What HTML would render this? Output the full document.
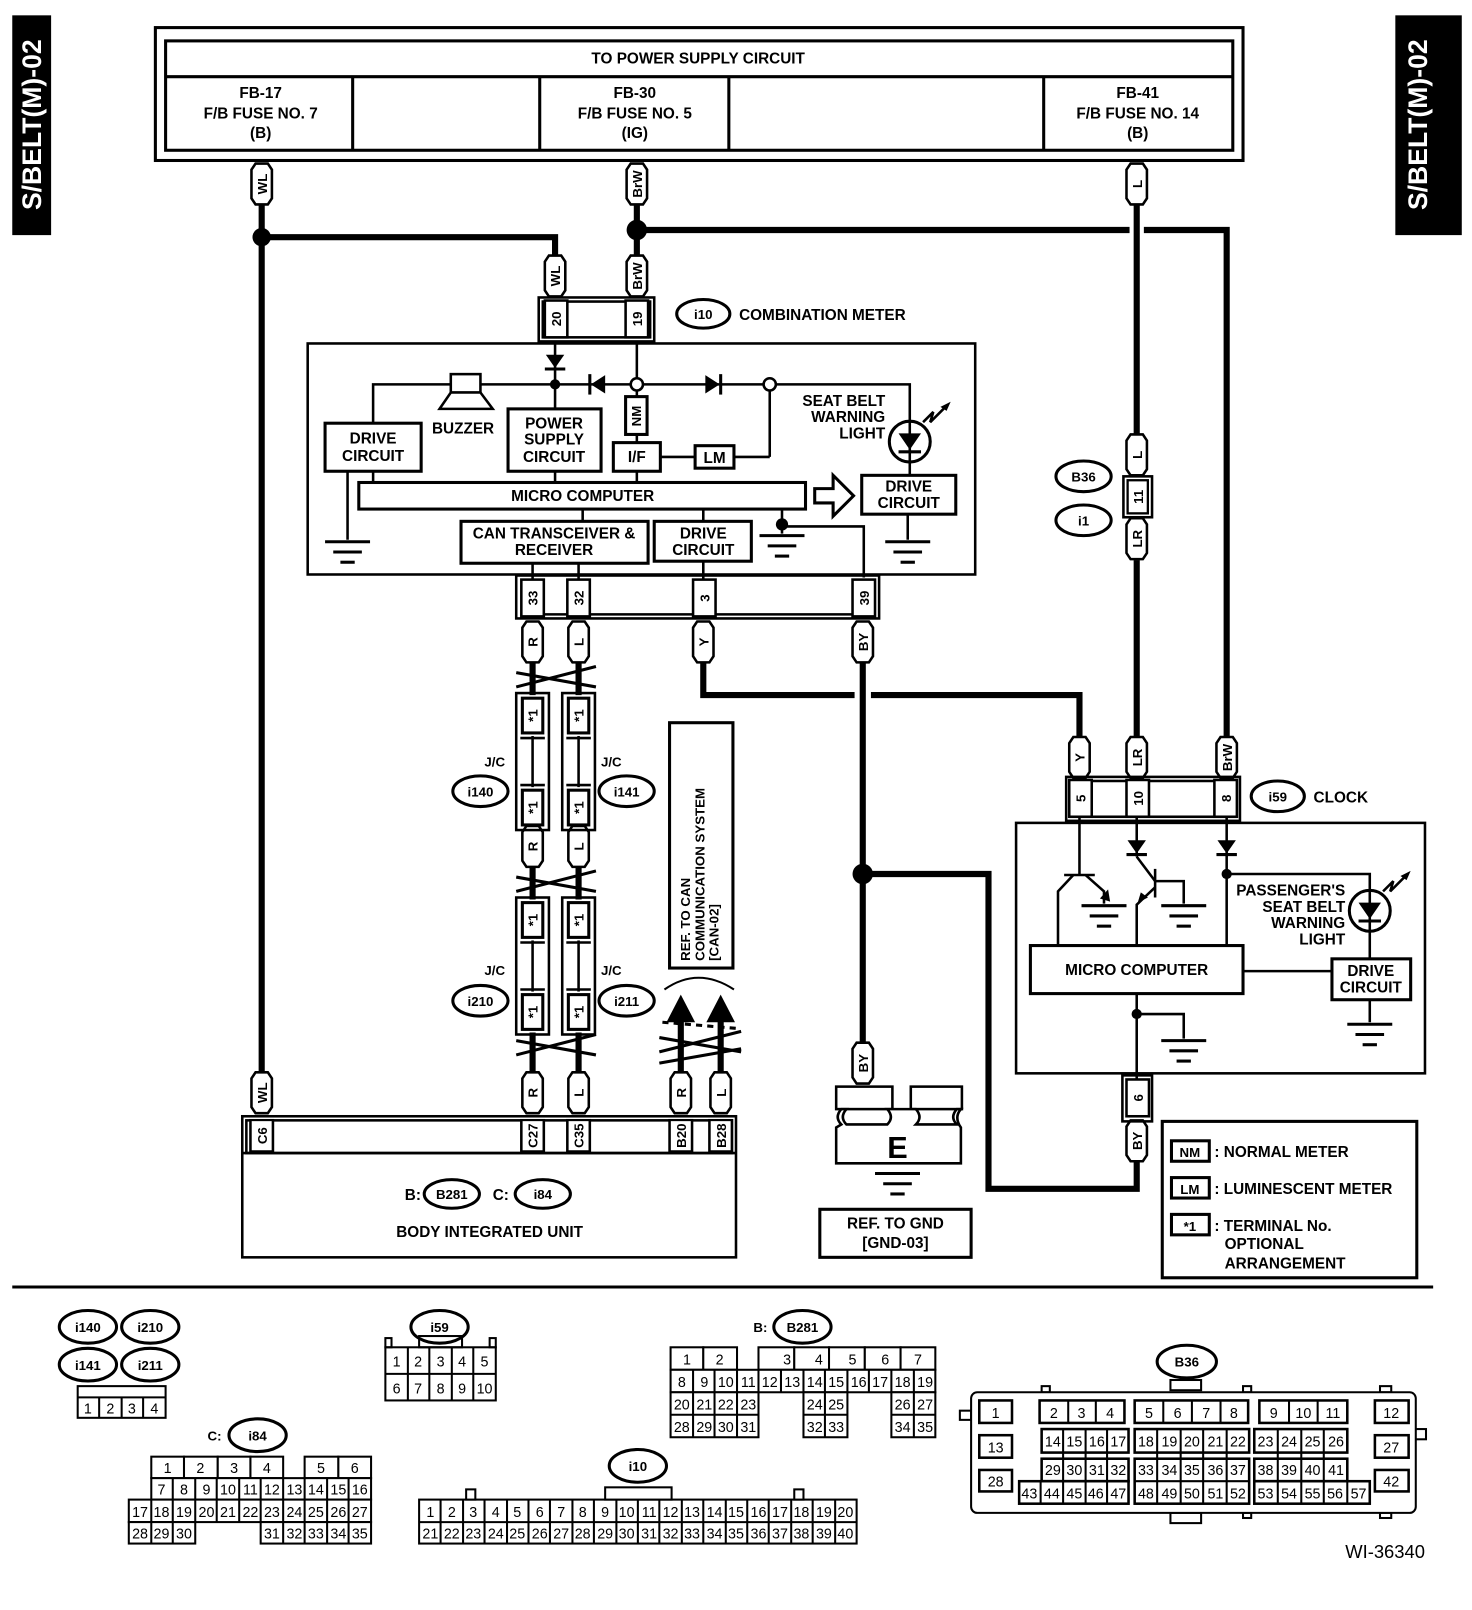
<!DOCTYPE html>
<html><head><meta charset="utf-8"><style>
html,body{margin:0;padding:0;background:#fff;}
svg{display:block;}
text{font-family:"Liberation Sans",sans-serif;font-weight:bold;fill:#000;}
.n{font-family:"Liberation Sans Narrow","Liberation Sans",sans-serif;font-weight:normal;font-size:14px;text-anchor:middle;}
.c{text-anchor:middle;}
.t{font-size:15px;}
.s{font-size:13px;}
</style></head><body>
<svg width="1472" height="1610" viewBox="0 0 1440 1575" preserveAspectRatio="none" xmlns="http://www.w3.org/2000/svg">
<defs>
<path id="pill" d="M-10,-14 L-6,-20 L6,-20 L10,-14 L10,14 L6,20 L-6,20 L-10,14 Z" fill="#fff" stroke="#000" stroke-width="2.5"/>
<g id="gnd" stroke="#000" stroke-width="3"><line x1="-22" y1="0" x2="22" y2="0"/><line x1="-14" y1="10" x2="14" y2="10"/><line x1="-7" y1="20" x2="7" y2="20"/></g>
<rect id="cell" x="-11" y="-18" width="22" height="36" fill="#fff" stroke="#000" stroke-width="2.5"/>
<rect id="star" x="-10" y="-17" width="20" height="34" fill="#fff" stroke="#000" stroke-width="3"/>
</defs>

<rect x="12" y="15" width="38" height="215" fill="#000"/>
<text transform="translate(40,122) rotate(-90)" class="c" style="font-size:26px;fill:#fff;font-weight:bold">S/BELT(M)-02</text>
<rect x="1365" y="15" width="65" height="215" fill="#000"/>
<text transform="translate(1396,122) rotate(-90)" class="c" style="font-size:26px;fill:#fff;font-weight:bold">S/BELT(M)-02</text>

<g fill="none" stroke="#000" stroke-width="3">
<rect x="152" y="27" width="1064" height="130"/>
<rect x="162" y="40" width="1044" height="107"/>
<line x1="162" y1="75" x2="1206" y2="75"/>
<line x1="345" y1="75" x2="345" y2="147"/><line x1="528" y1="75" x2="528" y2="147"/>
<line x1="713" y1="75" x2="713" y2="147"/><line x1="1021" y1="75" x2="1021" y2="147"/>
</g>
<text x="683" y="62" class="c t">TO POWER SUPPLY CIRCUIT</text>
<text x="255" y="96" class="c t">FB-17</text><text x="255" y="116" class="c t">F/B FUSE NO. 7</text><text x="255" y="135" class="c t">(B)</text>
<text x="621" y="96" class="c t">FB-30</text><text x="621" y="116" class="c t">F/B FUSE NO. 5</text><text x="621" y="135" class="c t">(IG)</text>
<text x="1113" y="96" class="c t">FB-41</text><text x="1113" y="116" class="c t">F/B FUSE NO. 14</text><text x="1113" y="135" class="c t">(B)</text>

<g fill="none" stroke="#000" stroke-width="6">
<polyline points="256,200 256,1050"/>
<polyline points="256,232 543,232 543,252"/>
<polyline points="623,200 623,252"/>
<polyline points="623,225 1105,225"/>
<polyline points="1119,225 1200,225 1200,722"/>
<polyline points="1112,200 1112,425"/>
<polyline points="1112,548 1112,722"/>
<polyline points="688,648 688,680 836,680"/>
<polyline points="852,680 1056,680 1056,722"/>
<polyline points="844,648 844,1020"/>
<polyline points="844,855 967,855 967,1163 1112,1163 1112,1136"/>
<polyline points="521,648 521,680"/><polyline points="566,648 566,680"/>
<polyline points="521,848 521,880"/><polyline points="566,848 566,880"/>
<polyline points="521,1010 521,1049"/><polyline points="566,1010 566,1049"/>
<polyline points="666,1049 666,990"/><polyline points="705,1049 705,990"/>
</g>
<circle cx="256" cy="232" r="9"/><circle cx="623" cy="225" r="10"/><circle cx="844" cy="855" r="10"/>

<g stroke="#000" stroke-width="3" fill="none">
<path d="M505,658 L583,672 M505,672 L583,652"/>
<path d="M505,858 L583,872 M505,872 L583,852"/>
<path d="M505,1018 L583,1032 M505,1032 L583,1012"/>
<path d="M645,1015 L725,1029 M645,1029 L725,1009 M645,1040 L725,1026"/>
</g>
<g stroke="#000" stroke-width="3" stroke-dasharray="6,5"><line x1="648" y1="1000" x2="720" y2="1006"/></g>
<path d="M650,968 Q683,945 718,968" fill="none" stroke="#000" stroke-width="2"/>
<polygon points="666,973 652,1000 680,1000" /><polygon points="705,973 691,1000 719,1000"/>

<g transform="translate(256,180)"><use href="#pill"/><text transform="rotate(-90)" y="5" class="c s">WL</text></g>
<g transform="translate(623,180)"><use href="#pill"/><text transform="rotate(-90)" y="5" class="c s">BrW</text></g>
<g transform="translate(1112,180)"><use href="#pill"/><text transform="rotate(-90)" y="5" class="c s">L</text></g>
<g transform="translate(543,270)"><use href="#pill"/><text transform="rotate(-90)" y="5" class="c s">WL</text></g>
<g transform="translate(623,270)"><use href="#pill"/><text transform="rotate(-90)" y="5" class="c s">BrW</text></g>
<g transform="translate(1112,445)"><use href="#pill"/><text transform="rotate(-90)" y="5" class="c s">L</text></g>
<g transform="translate(1112,527)"><use href="#pill"/><text transform="rotate(-90)" y="5" class="c s">LR</text></g>
<g transform="translate(521,628)"><use href="#pill"/><text transform="rotate(-90)" y="5" class="c s">R</text></g>
<g transform="translate(566,628)"><use href="#pill"/><text transform="rotate(-90)" y="5" class="c s">L</text></g>
<g transform="translate(688,628)"><use href="#pill"/><text transform="rotate(-90)" y="5" class="c s">Y</text></g>
<g transform="translate(844,628)"><use href="#pill"/><text transform="rotate(-90)" y="5" class="c s">BY</text></g>
<g transform="translate(1056,741)"><use href="#pill"/><text transform="rotate(-90)" y="5" class="c s">Y</text></g>
<g transform="translate(1112,741)"><use href="#pill"/><text transform="rotate(-90)" y="5" class="c s">LR</text></g>
<g transform="translate(1200,741)"><use href="#pill"/><text transform="rotate(-90)" y="5" class="c s">BrW</text></g>
<g transform="translate(521,828)"><use href="#pill"/><text transform="rotate(-90)" y="5" class="c s">R</text></g>
<g transform="translate(566,828)"><use href="#pill"/><text transform="rotate(-90)" y="5" class="c s">L</text></g>
<g transform="translate(256,1069)"><use href="#pill"/><text transform="rotate(-90)" y="5" class="c s">WL</text></g>
<g transform="translate(521,1069)"><use href="#pill"/><text transform="rotate(-90)" y="5" class="c s">R</text></g>
<g transform="translate(566,1069)"><use href="#pill"/><text transform="rotate(-90)" y="5" class="c s">L</text></g>
<g transform="translate(666,1069)"><use href="#pill"/><text transform="rotate(-90)" y="5" class="c s">R</text></g>
<g transform="translate(705,1069)"><use href="#pill"/><text transform="rotate(-90)" y="5" class="c s">L</text></g>
<g transform="translate(844,1040)"><use href="#pill"/><text transform="rotate(-90)" y="5" class="c s">BY</text></g>
<g transform="translate(1112,1116)"><use href="#pill"/><text transform="rotate(-90)" y="5" class="c s">BY</text></g>

<g fill="none" stroke="#000" stroke-width="2.5">
<rect x="527" y="291" width="113" height="43"/><rect x="531" y="295" width="105" height="35"/>
</g>
<g transform="translate(544,312)"><use href="#cell"/><text transform="rotate(-90)" y="5" class="c s">20</text></g>
<g transform="translate(623,312)"><use href="#cell"/><text transform="rotate(-90)" y="5" class="c s">19</text></g>
<ellipse cx="688" cy="307" rx="26" ry="14" fill="none" stroke="#000" stroke-width="3"/>
<text x="688" y="312" class="c s">i10</text>
<text x="723" y="313" class="t">COMBINATION METER</text>

<rect x="301" y="336" width="653" height="226" fill="none" stroke="#000" stroke-width="2.5"/>
<g stroke="#000" stroke-width="2.5" fill="none">
<line x1="543" y1="334" x2="543" y2="400"/>
<polyline points="365,414 365,376 753,376 890,376 890,465"/>
<line x1="753" y1="376" x2="753" y2="447"/>
<line x1="718" y1="447" x2="753" y2="447"/>
<line x1="646" y1="447" x2="680" y2="447"/>
<line x1="623" y1="334" x2="623" y2="388"/><line x1="623" y1="425" x2="623" y2="433"/>
<line x1="365" y1="461" x2="365" y2="472"/><line x1="543" y1="461" x2="543" y2="472"/><line x1="623" y1="461" x2="623" y2="472"/>
<line x1="340" y1="461" x2="340" y2="528"/>
<line x1="570" y1="498" x2="570" y2="510"/><line x1="688" y1="498" x2="688" y2="510"/>
<polyline points="765,498 765,515 845,515 845,565"/>
<line x1="765" y1="513" x2="765" y2="522"/>
<line x1="888" y1="503" x2="888" y2="528"/>
<line x1="521" y1="551" x2="521" y2="567"/><line x1="566" y1="551" x2="566" y2="567"/><line x1="688" y1="549" x2="688" y2="567"/>
</g>
<use href="#gnd" x="340" y="530"/><use href="#gnd" x="765" y="524"/><use href="#gnd" x="888" y="530"/>
<circle cx="543" cy="376" r="5"/><circle cx="765" cy="513" r="6"/>
<polygon points="534,347 552,347 543,360"/><line x1="533" y1="361" x2="553" y2="361" stroke="#000" stroke-width="3"/>
<polygon points="592,367 592,385 578,376"/><line x1="577" y1="366" x2="577" y2="386" stroke="#000" stroke-width="3"/>
<polygon points="690,367 690,385 704,376"/><line x1="705" y1="366" x2="705" y2="386" stroke="#000" stroke-width="3"/>
<circle cx="623" cy="376" r="6" fill="#fff" stroke="#000" stroke-width="2.5"/>
<circle cx="753" cy="376" r="6" fill="#fff" stroke="#000" stroke-width="2.5"/>
<rect x="441" y="366" width="29" height="18" fill="#fff" stroke="#000" stroke-width="2.5"/>
<polygon points="441,384 470,384 482,400 430,400" fill="#fff" stroke="#000" stroke-width="2.5"/>
<text x="453" y="424" class="c t">BUZZER</text>
<g fill="#fff" stroke="#000" stroke-width="3">
<rect x="318" y="414" width="94" height="47"/>
<rect x="497" y="400" width="91" height="61"/>
<rect x="600" y="433" width="46" height="28"/>
<rect x="680" y="436" width="38" height="22"/>
<rect x="612" y="388" width="21" height="37"/>
<rect x="351" y="472" width="437" height="26"/>
<rect x="843" y="465" width="92" height="38"/>
<rect x="451" y="510" width="183" height="41"/>
<rect x="640" y="510" width="95" height="39"/>
</g>
<text x="365" y="434" class="c t">DRIVE</text><text x="365" y="451" class="c t">CIRCUIT</text>
<text x="542" y="419" class="c t">POWER</text><text x="542" y="435" class="c t">SUPPLY</text><text x="542" y="452" class="c t">CIRCUIT</text>
<text transform="translate(627,407) rotate(-90)" class="c s">NM</text>
<text x="623" y="452" class="c t">I/F</text>
<text x="699" y="453" class="c t">LM</text>
<text x="570" y="490" class="c t">MICRO COMPUTER</text>
<text x="889" y="481" class="c t">DRIVE</text><text x="889" y="497" class="c t">CIRCUIT</text>
<text x="542" y="527" class="c t">CAN TRANSCEIVER &amp;</text><text x="542" y="543" class="c t">RECEIVER</text>
<text x="688" y="527" class="c t">DRIVE</text><text x="688" y="543" class="c t">CIRCUIT</text>
<polygon points="797,478 815,478 815,465 835,485 815,505 815,492 797,492" fill="#fff" stroke="#000" stroke-width="3"/>
<text x="866" y="397" text-anchor="end" class="t">SEAT BELT</text>
<text x="866" y="413" text-anchor="end" class="t">WARNING</text>
<text x="866" y="429" text-anchor="end" class="t">LIGHT</text>
<circle cx="890" cy="432" r="20" fill="#fff" stroke="#000" stroke-width="3"/>
<line x1="890" y1="412" x2="890" y2="452" stroke="#000" stroke-width="2.5"/>
<polygon points="879,424 901,424 890,440"/><line x1="879" y1="442" x2="901" y2="442" stroke="#000" stroke-width="3"/>
<polyline points="903,413 913,403 910,413 926,397" fill="none" stroke="#000" stroke-width="2.5"/>
<polygon points="930,393 920,398 926,402"/>

<g fill="none" stroke="#000" stroke-width="2.5">
<rect x="505" y="563" width="355" height="42"/><line x1="509" y1="601" x2="856" y2="601"/>
</g>
<g transform="translate(521,585)"><use href="#cell"/><text transform="rotate(-90)" y="5" class="c s">33</text></g>
<g transform="translate(566,585)"><use href="#cell"/><text transform="rotate(-90)" y="5" class="c s">32</text></g>
<g transform="translate(689,585)"><use href="#cell"/><text transform="rotate(-90)" y="5" class="c s">3</text></g>
<g transform="translate(845,585)"><use href="#cell"/><text transform="rotate(-90)" y="5" class="c s">39</text></g>

<g fill="none" stroke="#000" stroke-width="2.5">
<rect x="505" y="678" width="32" height="134"/><rect x="550" y="678" width="32" height="134"/>
<rect x="505" y="878" width="32" height="134"/><rect x="550" y="878" width="32" height="134"/>
<line x1="521" y1="720" x2="521" y2="770"/><line x1="566" y1="720" x2="566" y2="770"/>
<line x1="521" y1="920" x2="521" y2="970"/><line x1="566" y1="920" x2="566" y2="970"/>
<line x1="509" y1="722" x2="533" y2="722"/><line x1="509" y1="768" x2="533" y2="768"/>
<line x1="554" y1="722" x2="578" y2="722"/><line x1="554" y1="768" x2="578" y2="768"/>
<line x1="509" y1="922" x2="533" y2="922"/><line x1="509" y1="968" x2="533" y2="968"/>
<line x1="554" y1="922" x2="578" y2="922"/><line x1="554" y1="968" x2="578" y2="968"/>
</g>
<g transform="translate(521,700)"><use href="#star"/><text transform="rotate(-90)" y="5" class="c s">*1</text></g>
<g transform="translate(566,700)"><use href="#star"/><text transform="rotate(-90)" y="5" class="c s">*1</text></g>
<g transform="translate(521,790)"><use href="#star"/><text transform="rotate(-90)" y="5" class="c s">*1</text></g>
<g transform="translate(566,790)"><use href="#star"/><text transform="rotate(-90)" y="5" class="c s">*1</text></g>
<g transform="translate(521,900)"><use href="#star"/><text transform="rotate(-90)" y="5" class="c s">*1</text></g>
<g transform="translate(566,900)"><use href="#star"/><text transform="rotate(-90)" y="5" class="c s">*1</text></g>
<g transform="translate(521,990)"><use href="#star"/><text transform="rotate(-90)" y="5" class="c s">*1</text></g>
<g transform="translate(566,990)"><use href="#star"/><text transform="rotate(-90)" y="5" class="c s">*1</text></g>
<g fill="none" stroke="#000" stroke-width="3">
<ellipse cx="470" cy="774" rx="27" ry="15"/><ellipse cx="613" cy="774" rx="27" ry="15"/>
<ellipse cx="470" cy="979" rx="27" ry="15"/><ellipse cx="613" cy="979" rx="27" ry="15"/>
</g>
<text x="484" y="750" class="c s">J/C</text><text x="598" y="750" class="c s">J/C</text>
<text x="484" y="954" class="c s">J/C</text><text x="598" y="954" class="c s">J/C</text>
<text x="470" y="779" class="c s">i140</text><text x="613" y="779" class="c s">i141</text>
<text x="470" y="984" class="c s">i210</text><text x="613" y="984" class="c s">i211</text>

<rect x="655" y="707" width="62" height="240" fill="none" stroke="#000" stroke-width="3"/>
<text transform="translate(675,940) rotate(-90)" class="s">REF. TO CAN</text>
<text transform="translate(689,940) rotate(-90)" class="s">COMMUNICATION SYSTEM</text>
<text transform="translate(703,940) rotate(-90)" class="s">[CAN-02]</text>

<g fill="none" stroke="#000" stroke-width="2.5">
<rect x="237" y="1092" width="483" height="138"/>
<rect x="241" y="1096" width="475" height="32"/>
<line x1="237" y1="1128" x2="720" y2="1128"/>
</g>
<g transform="translate(256,1111)"><use href="#cell" transform="scale(1,0.85)"/><text transform="rotate(-90)" y="5" class="c s">C6</text></g>
<g transform="translate(521,1111)"><use href="#cell" transform="scale(1,0.85)"/><text transform="rotate(-90)" y="5" class="c s">C27</text></g>
<g transform="translate(566,1111)"><use href="#cell" transform="scale(1,0.85)"/><text transform="rotate(-90)" y="5" class="c s">C35</text></g>
<g transform="translate(666,1111)"><use href="#cell" transform="scale(1,0.85)"/><text transform="rotate(-90)" y="5" class="c s">B20</text></g>
<g transform="translate(705,1111)"><use href="#cell" transform="scale(1,0.85)"/><text transform="rotate(-90)" y="5" class="c s">B28</text></g>
<text x="396" y="1174" class="t">B:</text>
<ellipse cx="442" cy="1168" rx="27" ry="14" fill="none" stroke="#000" stroke-width="3"/><text x="442" y="1173" class="c s">B281</text>
<text x="482" y="1174" class="t">C:</text>
<ellipse cx="531" cy="1168" rx="27" ry="14" fill="none" stroke="#000" stroke-width="3"/><text x="531" y="1173" class="c s">i84</text>
<text x="479" y="1210" class="c t">BODY INTEGRATED UNIT</text>

<g fill="#fff" stroke="#000" stroke-width="2.5">
<rect x="818" y="1063" width="55" height="22"/>
<rect x="891" y="1063" width="50" height="22"/>
<path d="M823,1085 Q816,1093 823,1100 L818,1103 L818,1138 L940,1138 L940,1103 Q933,1093 940,1085 L936,1085 Q929,1093 936,1100 L896,1100 Q903,1093 896,1085 L868,1085 Q875,1093 868,1100 L828,1100 Q821,1093 828,1085 Z"/>
</g>
<text x="878" y="1133" class="c" style="font-size:30px">E</text>
<use href="#gnd" x="878" y="1148"/>
<rect x="802" y="1183" width="148" height="47" fill="none" stroke="#000" stroke-width="3"/>
<text x="876" y="1202" class="c t">REF. TO GND</text><text x="876" y="1221" class="c t">[GND-03]</text>

<g fill="none" stroke="#000" stroke-width="2.5"><rect x="1099" y="466" width="28" height="40"/></g>
<g transform="translate(1113,486)"><use href="#cell" transform="scale(0.9,0.9)"/><text transform="rotate(-90)" y="5" class="c s">11</text></g>
<ellipse cx="1060" cy="466" rx="27" ry="15" fill="none" stroke="#000" stroke-width="3"/><text x="1060" y="471" class="c s">B36</text>
<ellipse cx="1060" cy="509" rx="27" ry="15" fill="none" stroke="#000" stroke-width="3"/><text x="1060" y="514" class="c s">i1</text>

<g fill="none" stroke="#000" stroke-width="2.5">
<rect x="1043" y="760" width="170" height="43"/><rect x="1047" y="764" width="162" height="35"/>
</g>
<g transform="translate(1057,781)"><use href="#cell"/><text transform="rotate(-90)" y="5" class="c s">5</text></g>
<g transform="translate(1113,781)"><use href="#cell"/><text transform="rotate(-90)" y="5" class="c s">10</text></g>
<g transform="translate(1199,781)"><use href="#cell"/><text transform="rotate(-90)" y="5" class="c s">8</text></g>
<ellipse cx="1250" cy="779" rx="26" ry="15" fill="none" stroke="#000" stroke-width="3"/><text x="1250" y="784" class="c s">i59</text>
<text x="1285" y="785" class="t">CLOCK</text>

<rect x="994" y="805" width="400" height="245" fill="none" stroke="#000" stroke-width="2.5"/>
<g stroke="#000" stroke-width="2.5" fill="none">
<line x1="1056" y1="800" x2="1056" y2="856"/>
<line x1="1041" y1="856" x2="1071" y2="856"/>
<polyline points="1050,856 1035,872 1035,925"/>
<polyline points="1062,856 1080,872 1080,884"/>
<line x1="1112" y1="800" x2="1112" y2="838"/>
<polyline points="1112,838 1130,862"/>
<line x1="1130" y1="850" x2="1130" y2="878"/>
<polyline points="1130,862 1158,862 1158,884"/>
<polyline points="1130,868 1112,885 1112,925"/>
<line x1="1200" y1="800" x2="1200" y2="925"/>
<polyline points="1200,855 1340,855 1340,938"/>
<line x1="1216" y1="950" x2="1303" y2="950"/>
<line x1="1340" y1="978" x2="1340" y2="1000"/>
<polyline points="1112,972 1112,1055"/>
<polyline points="1112,992 1158,992 1158,1016"/>
</g>
<polygon points="1076,879 1084,870 1086,882"/>
<polygon points="1113,883 1116,873 1123,878"/>
<polygon points="1103,822 1121,822 1112,835"/><line x1="1102" y1="836" x2="1122" y2="836" stroke="#000" stroke-width="3"/>
<polygon points="1191,822 1209,822 1200,835"/><line x1="1190" y1="836" x2="1210" y2="836" stroke="#000" stroke-width="3"/>
<circle cx="1200" cy="855" r="5"/><circle cx="1112" cy="992" r="5"/>
<use href="#gnd" x="1080" y="886"/><use href="#gnd" x="1158" y="886"/><use href="#gnd" x="1158" y="1018"/><use href="#gnd" x="1340" y="1002"/>
<g fill="#fff" stroke="#000" stroke-width="3">
<rect x="1008" y="925" width="208" height="47"/>
<rect x="1303" y="938" width="77" height="40"/>
</g>
<text x="1112" y="954" class="c t">MICRO COMPUTER</text>
<text x="1341" y="955" class="c t">DRIVE</text><text x="1341" y="971" class="c t">CIRCUIT</text>
<text x="1316" y="876" text-anchor="end" class="t">PASSENGER'S</text>
<text x="1316" y="892" text-anchor="end" class="t">SEAT BELT</text>
<text x="1316" y="908" text-anchor="end" class="t">WARNING</text>
<text x="1316" y="924" text-anchor="end" class="t">LIGHT</text>
<circle cx="1340" cy="891" r="20" fill="#fff" stroke="#000" stroke-width="3"/>
<line x1="1340" y1="871" x2="1340" y2="911" stroke="#000" stroke-width="2.5"/>
<polygon points="1329,883 1351,883 1340,899"/><line x1="1329" y1="901" x2="1351" y2="901" stroke="#000" stroke-width="3"/>
<polyline points="1353,872 1363,862 1360,872 1376,856" fill="none" stroke="#000" stroke-width="2.5"/>
<polygon points="1380,852 1370,857 1376,861"/>
<g fill="none" stroke="#000" stroke-width="2.5"><rect x="1098" y="1052" width="29" height="45"/></g>
<g transform="translate(1113,1074)"><use href="#cell"/><text transform="rotate(-90)" y="5" class="c s">6</text></g>

<rect x="1137" y="1097" width="249" height="153" fill="none" stroke="#000" stroke-width="3"/>
<g fill="#fff" stroke="#000" stroke-width="3">
<rect x="1146" y="1116" width="37" height="20"/><rect x="1146" y="1152" width="37" height="20"/><rect x="1146" y="1188" width="37" height="20"/>
</g>
<text x="1164" y="1132" class="c s">NM</text><text x="1164" y="1168" class="c s">LM</text><text x="1164" y="1204" class="c s">*1</text>
<text x="1188" y="1132" class="t">: NORMAL METER</text>
<text x="1188" y="1168" class="t">: LUMINESCENT METER</text>
<text x="1188" y="1204" class="t">: TERMINAL No.</text>
<text x="1198" y="1222" class="t">OPTIONAL</text>
<text x="1198" y="1241" class="t">ARRANGEMENT</text>

<line x1="12" y1="1259" x2="1402" y2="1259" stroke="#000" stroke-width="3"/>

<g fill="none" stroke="#000" stroke-width="3">
<ellipse cx="86" cy="1298" rx="28" ry="16"/><ellipse cx="147" cy="1298" rx="28" ry="16"/>
<ellipse cx="86" cy="1335" rx="28" ry="16"/><ellipse cx="147" cy="1335" rx="28" ry="16"/>
<ellipse cx="430" cy="1298" rx="28" ry="16"/>
<ellipse cx="785" cy="1298" rx="28" ry="16"/>
<ellipse cx="252" cy="1404" rx="28" ry="16"/>
<ellipse cx="624" cy="1434" rx="28" ry="16"/>
<ellipse cx="1161" cy="1332" rx="29" ry="16"/>
</g>
<text x="86" y="1303" class="c s">i140</text><text x="147" y="1303" class="c s">i210</text>
<text x="86" y="1340" class="c s">i141</text><text x="147" y="1340" class="c s">i211</text>
<text x="430" y="1303" class="c s">i59</text>
<text x="737" y="1303" class="s">B:</text><text x="785" y="1303" class="c s">B281</text>
<text x="203" y="1409" class="s">C:</text><text x="252" y="1409" class="c s">i84</text>
<text x="624" y="1439" class="c s">i10</text>
<text x="1161" y="1337" class="c s">B36</text>

<g fill="none" stroke="#000" stroke-width="2">
<rect x="76" y="1356" width="86" height="31"/><line x1="76" y1="1367" x2="162" y2="1367"/>
<line x1="97" y1="1367" x2="97" y2="1387"/><line x1="119" y1="1367" x2="119" y2="1387"/><line x1="140" y1="1367" x2="140" y2="1387"/>
<rect x="377" y="1318" width="108" height="52"/><line x1="377" y1="1344" x2="485" y2="1344"/>
<line x1="399" y1="1318" x2="399" y2="1370"/><line x1="420" y1="1318" x2="420" y2="1370"/><line x1="442" y1="1318" x2="442" y2="1370"/><line x1="463" y1="1318" x2="463" y2="1370"/>
<rect x="410" y="1307" width="42" height="11"/><rect x="377" y="1309" width="6" height="9"/><rect x="479" y="1309" width="6" height="9"/>
</g>
<text x="86" y="1383" class="n">1</text><text x="108" y="1383" class="n">2</text><text x="129" y="1383" class="n">3</text><text x="151" y="1383" class="n">4</text>
<text x="388" y="1337" class="n">1</text><text x="409" y="1337" class="n">2</text><text x="431" y="1337" class="n">3</text><text x="452" y="1337" class="n">4</text><text x="474" y="1337" class="n">5</text>
<text x="388" y="1363" class="n">6</text><text x="409" y="1363" class="n">7</text><text x="431" y="1363" class="n">8</text><text x="452" y="1363" class="n">9</text><text x="474" y="1363" class="n">10</text>

<g fill="#fff" stroke="#000" stroke-width="2">
<rect x="656" y="1318" width="32" height="22"/><rect x="688" y="1318" width="33" height="22"/>
<rect x="742" y="1318" width="35" height="22"/><rect x="777" y="1318" width="34" height="22"/><rect x="811" y="1318" width="35" height="22"/><rect x="846" y="1318" width="35" height="22"/><rect x="881" y="1318" width="34" height="22"/>
<rect x="656" y="1340" width="259" height="22"/>
<rect x="656" y="1362" width="86" height="44"/><rect x="786" y="1362" width="43" height="44"/><rect x="872" y="1362" width="43" height="44"/>
<line x1="656" y1="1384" x2="742" y2="1384"/><line x1="786" y1="1384" x2="829" y2="1384"/><line x1="872" y1="1384" x2="915" y2="1384"/>
<line x1="678" y1="1340" x2="678" y2="1406"/><line x1="699" y1="1340" x2="699" y2="1406"/><line x1="721" y1="1340" x2="721" y2="1406"/>
<line x1="742" y1="1340" x2="742" y2="1362"/><line x1="764" y1="1340" x2="764" y2="1362"/><line x1="786" y1="1340" x2="786" y2="1362"/>
<line x1="807" y1="1340" x2="807" y2="1406"/><line x1="829" y1="1340" x2="829" y2="1362"/><line x1="850" y1="1340" x2="850" y2="1362"/>
<line x1="872" y1="1340" x2="872" y2="1362"/><line x1="894" y1="1340" x2="894" y2="1406"/>
</g>
<text x="672" y="1335" class="n">1</text><text x="704" y="1335" class="n">2</text><text x="770" y="1335" class="n">3</text><text x="801" y="1335" class="n">4</text><text x="834" y="1335" class="n">5</text><text x="866" y="1335" class="n">6</text><text x="898" y="1335" class="n">7</text>
<text x="667" y="1357" class="n">8</text><text x="689" y="1357" class="n">9</text><text x="710" y="1357" class="n">10</text><text x="732" y="1357" class="n">11</text><text x="753" y="1357" class="n">12</text><text x="775" y="1357" class="n">13</text><text x="797" y="1357" class="n">14</text><text x="818" y="1357" class="n">15</text><text x="840" y="1357" class="n">16</text><text x="861" y="1357" class="n">17</text><text x="883" y="1357" class="n">18</text><text x="905" y="1357" class="n">19</text>
<text x="667" y="1379" class="n">20</text><text x="689" y="1379" class="n">21</text><text x="710" y="1379" class="n">22</text><text x="732" y="1379" class="n">23</text><text x="797" y="1379" class="n">24</text><text x="818" y="1379" class="n">25</text><text x="883" y="1379" class="n">26</text><text x="905" y="1379" class="n">27</text>
<text x="667" y="1401" class="n">28</text><text x="689" y="1401" class="n">29</text><text x="710" y="1401" class="n">30</text><text x="732" y="1401" class="n">31</text><text x="797" y="1401" class="n">32</text><text x="818" y="1401" class="n">33</text><text x="883" y="1401" class="n">34</text><text x="905" y="1401" class="n">35</text>

<g fill="#fff" stroke="#000" stroke-width="2">
<rect x="148" y="1425" width="32" height="21"/><rect x="180" y="1425" width="33" height="21"/><rect x="213" y="1425" width="32" height="21"/><rect x="245" y="1425" width="32" height="21"/>
<rect x="298" y="1425" width="33" height="21"/><rect x="331" y="1425" width="32" height="21"/>
<rect x="148" y="1446" width="215" height="21"/>
<rect x="126" y="1467" width="237" height="22"/>
<rect x="126" y="1489" width="65" height="21"/><rect x="255" y="1489" width="108" height="21"/>
<line x1="169" y1="1446" x2="169" y2="1510"/><line x1="191" y1="1446" x2="191" y2="1489"/><line x1="212" y1="1446" x2="212" y2="1489"/>
<line x1="234" y1="1446" x2="234" y2="1489"/><line x1="255" y1="1446" x2="255" y2="1489"/><line x1="277" y1="1446" x2="277" y2="1510"/>
<line x1="298" y1="1446" x2="298" y2="1510"/><line x1="320" y1="1446" x2="320" y2="1510"/><line x1="341" y1="1446" x2="341" y2="1510"/>
<line x1="148" y1="1467" x2="148" y2="1510"/>
</g>
<text x="164" y="1441" class="n">1</text><text x="196" y="1441" class="n">2</text><text x="229" y="1441" class="n">3</text><text x="261" y="1441" class="n">4</text><text x="314" y="1441" class="n">5</text><text x="347" y="1441" class="n">6</text>
<text x="158" y="1462" class="n">7</text><text x="180" y="1462" class="n">8</text><text x="202" y="1462" class="n">9</text><text x="223" y="1462" class="n">10</text><text x="245" y="1462" class="n">11</text><text x="266" y="1462" class="n">12</text><text x="288" y="1462" class="n">13</text><text x="309" y="1462" class="n">14</text><text x="331" y="1462" class="n">15</text><text x="352" y="1462" class="n">16</text>
<text x="137" y="1484" class="n">17</text><text x="158" y="1484" class="n">18</text><text x="180" y="1484" class="n">19</text><text x="202" y="1484" class="n">20</text><text x="223" y="1484" class="n">21</text><text x="245" y="1484" class="n">22</text><text x="266" y="1484" class="n">23</text><text x="288" y="1484" class="n">24</text><text x="309" y="1484" class="n">25</text><text x="331" y="1484" class="n">26</text><text x="352" y="1484" class="n">27</text>
<text x="137" y="1505" class="n">28</text><text x="158" y="1505" class="n">29</text><text x="180" y="1505" class="n">30</text><text x="266" y="1505" class="n">31</text><text x="288" y="1505" class="n">32</text><text x="309" y="1505" class="n">33</text><text x="331" y="1505" class="n">34</text><text x="352" y="1505" class="n">35</text>

<g fill="#fff" stroke="#000" stroke-width="2">
<rect x="410" y="1467" width="428" height="43"/><line x1="410" y1="1489" x2="838" y2="1489"/>
<rect x="456" y="1457" width="9" height="10"/><rect x="777" y="1457" width="9" height="10"/><rect x="592" y="1455" width="65" height="12"/>
</g>
<g stroke="#000" stroke-width="2">
<line x1="431" y1="1467" x2="431" y2="1510"/><line x1="453" y1="1467" x2="453" y2="1510"/><line x1="474" y1="1467" x2="474" y2="1510"/><line x1="496" y1="1467" x2="496" y2="1510"/><line x1="517" y1="1467" x2="517" y2="1510"/><line x1="538" y1="1467" x2="538" y2="1510"/><line x1="560" y1="1467" x2="560" y2="1510"/><line x1="581" y1="1467" x2="581" y2="1510"/><line x1="603" y1="1467" x2="603" y2="1510"/><line x1="624" y1="1467" x2="624" y2="1510"/><line x1="645" y1="1467" x2="645" y2="1510"/><line x1="667" y1="1467" x2="667" y2="1510"/><line x1="688" y1="1467" x2="688" y2="1510"/><line x1="710" y1="1467" x2="710" y2="1510"/><line x1="731" y1="1467" x2="731" y2="1510"/><line x1="752" y1="1467" x2="752" y2="1510"/><line x1="774" y1="1467" x2="774" y2="1510"/><line x1="795" y1="1467" x2="795" y2="1510"/><line x1="817" y1="1467" x2="817" y2="1510"/>
</g>
<text x="421" y="1484" class="n">1</text><text x="442" y="1484" class="n">2</text><text x="463" y="1484" class="n">3</text><text x="485" y="1484" class="n">4</text><text x="506" y="1484" class="n">5</text><text x="528" y="1484" class="n">6</text><text x="549" y="1484" class="n">7</text><text x="570" y="1484" class="n">8</text><text x="592" y="1484" class="n">9</text><text x="613" y="1484" class="n">10</text><text x="635" y="1484" class="n">11</text><text x="656" y="1484" class="n">12</text><text x="677" y="1484" class="n">13</text><text x="699" y="1484" class="n">14</text><text x="720" y="1484" class="n">15</text><text x="742" y="1484" class="n">16</text><text x="763" y="1484" class="n">17</text><text x="784" y="1484" class="n">18</text><text x="806" y="1484" class="n">19</text><text x="827" y="1484" class="n">20</text>
<text x="421" y="1505" class="n">21</text><text x="442" y="1505" class="n">22</text><text x="463" y="1505" class="n">23</text><text x="485" y="1505" class="n">24</text><text x="506" y="1505" class="n">25</text><text x="528" y="1505" class="n">26</text><text x="549" y="1505" class="n">27</text><text x="570" y="1505" class="n">28</text><text x="592" y="1505" class="n">29</text><text x="613" y="1505" class="n">30</text><text x="635" y="1505" class="n">31</text><text x="656" y="1505" class="n">32</text><text x="677" y="1505" class="n">33</text><text x="699" y="1505" class="n">34</text><text x="720" y="1505" class="n">35</text><text x="742" y="1505" class="n">36</text><text x="763" y="1505" class="n">37</text><text x="784" y="1505" class="n">38</text><text x="806" y="1505" class="n">39</text><text x="827" y="1505" class="n">40</text>

<g fill="#fff" stroke="#000" stroke-width="2">
<rect x="1145" y="1350" width="30" height="10"/><rect x="1145" y="1480" width="30" height="10"/>
<rect x="1019" y="1356" width="8" height="6"/><rect x="1216" y="1356" width="8" height="6"/><rect x="1350" y="1356" width="11" height="6"/>
<rect x="1216" y="1480" width="8" height="5"/><rect x="1350" y="1480" width="11" height="5"/>
<rect x="939" y="1380" width="11" height="9"/><rect x="1384" y="1398" width="11" height="10"/>
<rect x="950" y="1362" width="435" height="118" rx="6"/>
</g>
<g fill="#fff" stroke="#000" stroke-width="2.5">
<rect x="958" y="1370" width="32" height="22"/><rect x="1017" y="1370" width="83" height="22"/><rect x="1110" y="1370" width="111" height="22"/><rect x="1232" y="1370" width="86" height="22"/><rect x="1345" y="1370" width="33" height="22"/>
<rect x="958" y="1404" width="32" height="22"/><rect x="1345" y="1404" width="33" height="22"/>
<rect x="958" y="1438" width="32" height="21"/><rect x="1345" y="1438" width="33" height="21"/>
<rect x="1019" y="1398" width="85" height="23"/><rect x="1110" y="1398" width="112" height="23"/><rect x="1227" y="1398" width="91" height="23"/>
<rect x="1019" y="1427" width="85" height="22"/><rect x="1110" y="1427" width="112" height="44"/><rect x="1227" y="1427" width="91" height="22"/>
<rect x="997" y="1449" width="107" height="22"/><rect x="1227" y="1449" width="113" height="22"/>
</g>
<g stroke="#000" stroke-width="2">
<line x1="1045" y1="1370" x2="1045" y2="1392"/><line x1="1072" y1="1370" x2="1072" y2="1392"/>
<line x1="1138" y1="1370" x2="1138" y2="1392"/><line x1="1166" y1="1370" x2="1166" y2="1392"/><line x1="1194" y1="1370" x2="1194" y2="1392"/>
<line x1="1261" y1="1370" x2="1261" y2="1392"/><line x1="1289" y1="1370" x2="1289" y2="1392"/>
<line x1="1040" y1="1398" x2="1040" y2="1471"/><line x1="1062" y1="1398" x2="1062" y2="1471"/><line x1="1083" y1="1398" x2="1083" y2="1471"/><line x1="1018" y1="1449" x2="1018" y2="1471"/>
<line x1="1132" y1="1398" x2="1132" y2="1471"/><line x1="1155" y1="1398" x2="1155" y2="1471"/><line x1="1177" y1="1398" x2="1177" y2="1471"/><line x1="1200" y1="1398" x2="1200" y2="1471"/>
<line x1="1110" y1="1449" x2="1222" y2="1449"/>
<line x1="1250" y1="1398" x2="1250" y2="1471"/><line x1="1273" y1="1398" x2="1273" y2="1471"/><line x1="1295" y1="1398" x2="1295" y2="1471"/><line x1="1318" y1="1449" x2="1318" y2="1471"/>
</g>
<text x="974" y="1387" class="n">1</text><text x="1031" y="1387" class="n">2</text><text x="1058" y="1387" class="n">3</text><text x="1086" y="1387" class="n">4</text>
<text x="1124" y="1387" class="n">5</text><text x="1152" y="1387" class="n">6</text><text x="1180" y="1387" class="n">7</text><text x="1207" y="1387" class="n">8</text>
<text x="1246" y="1387" class="n">9</text><text x="1275" y="1387" class="n">10</text><text x="1304" y="1387" class="n">11</text><text x="1361" y="1387" class="n">12</text>
<text x="974" y="1421" class="n">13</text><text x="1361" y="1421" class="n">27</text><text x="974" y="1454" class="n">28</text><text x="1361" y="1454" class="n">42</text>
<text x="1030" y="1415" class="n">14</text><text x="1051" y="1415" class="n">15</text><text x="1073" y="1415" class="n">16</text><text x="1094" y="1415" class="n">17</text>
<text x="1121" y="1415" class="n">18</text><text x="1144" y="1415" class="n">19</text><text x="1166" y="1415" class="n">20</text><text x="1189" y="1415" class="n">21</text><text x="1211" y="1415" class="n">22</text>
<text x="1238" y="1415" class="n">23</text><text x="1261" y="1415" class="n">24</text><text x="1284" y="1415" class="n">25</text><text x="1307" y="1415" class="n">26</text>
<text x="1030" y="1443" class="n">29</text><text x="1051" y="1443" class="n">30</text><text x="1073" y="1443" class="n">31</text><text x="1094" y="1443" class="n">32</text>
<text x="1121" y="1443" class="n">33</text><text x="1144" y="1443" class="n">34</text><text x="1166" y="1443" class="n">35</text><text x="1189" y="1443" class="n">36</text><text x="1211" y="1443" class="n">37</text>
<text x="1238" y="1443" class="n">38</text><text x="1261" y="1443" class="n">39</text><text x="1284" y="1443" class="n">40</text><text x="1307" y="1443" class="n">41</text>
<text x="1007" y="1466" class="n">43</text><text x="1029" y="1466" class="n">44</text><text x="1051" y="1466" class="n">45</text><text x="1072" y="1466" class="n">46</text><text x="1094" y="1466" class="n">47</text>
<text x="1121" y="1466" class="n">48</text><text x="1144" y="1466" class="n">49</text><text x="1166" y="1466" class="n">50</text><text x="1189" y="1466" class="n">51</text><text x="1211" y="1466" class="n">52</text>
<text x="1238" y="1466" class="n">53</text><text x="1261" y="1466" class="n">54</text><text x="1284" y="1466" class="n">55</text><text x="1306" y="1466" class="n">56</text><text x="1329" y="1466" class="n">57</text>

<text x="1394" y="1524" text-anchor="end" style="font-weight:normal;font-size:18px">WI-36340</text>
</svg>
</body></html>
